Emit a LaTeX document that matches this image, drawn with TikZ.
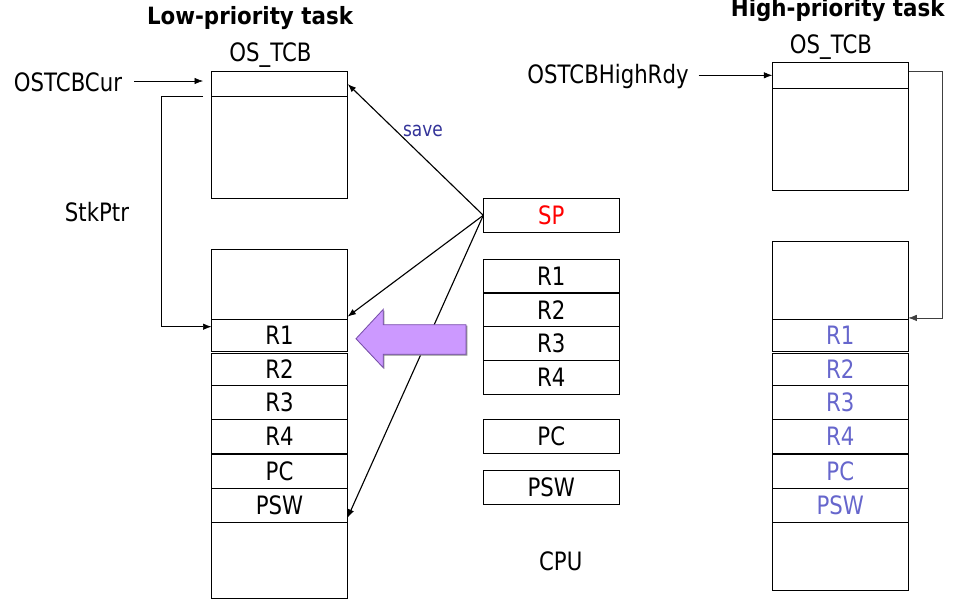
\documentclass[tikz,border=0pt]{standalone}
\usepackage{fontspec}
\setmainfont[FakeStretch=0.84]{DejaVu Sans}
\newfontfamily\headfont[FakeStretch=0.9]{DejaVu Sans Bold}
\usepackage{tikz}
\usetikzlibrary{arrows.meta}
\usetikzlibrary{calc}
\pgfdeclarelayer{nodelayer}
\pgfdeclarelayer{edgelayer}
\pgfsetlayers{edgelayer,nodelayer,main}
\definecolor{restored}{RGB}{102,102,204}
\definecolor{savetext}{RGB}{51,51,153}
\definecolor{arrowfill}{RGB}{204,153,255}
\definecolor{arrowline}{RGB}{120,80,170}
\newcommand{\regfont}{\fontsize{18}{21}\selectfont}
\tikzstyle{txt}=[inner sep=0pt, anchor=base, font=\regfont]
\tikzstyle{head}=[inner sep=0pt, anchor=base, font=\headfont\fontsize{16.9}{20}\selectfont]
\tikzset{cell/.style={draw, shape=rectangle, inner sep=0pt, outer sep=0pt,
anchor=north west, minimum width=3.4cm, font=\regfont}}
\tikzset{tcb/.style={cell, minimum width=#1}}
\tikzset{every picture/.append style={line width=1pt, >={Latex[length=6pt,width=4.5pt]}}}

\begin{document}
\begin{tikzpicture}[x=0.025cm, y=-0.025cm]
    \useasboundingbox (0, 0) rectangle (969, 606);
    			\begin{pgfonlayer}{nodelayer}
    				% titles and labels
    				\node [style=head] (1) at (250, 24) {Low-priority task};
    				\node [style=txt] (2) at (270.5, 61.7) {OS\_TCB};
    				\node [style=txt] (3) at (68, 91.7) {OSTCBCur};
    				\node [style=txt] (4) at (97, 221.7) {StkPtr};
    				\node [style=txt, font=\fontsize{14.4}{17}\selectfont, text=savetext] (5) at (423, 136) {save};
    				\node [style=head] (6) at (837.7, 16) {High-priority task};
    				\node [style=txt] (7) at (831, 53) {OS\_TCB};
    				\node [style=txt] (8) at (608, 83.3) {OSTCBHighRdy};
    				% low-priority OS_TCB
    				\node [style=tcb=3.165cm, minimum height=0.635cm] (10) at (211.7, 71.3) {};
    				\node [style=tcb=3.165cm, minimum height=2.5325cm] (11) at (211.7, 96.7) {};
    				% low-priority stack
    				\node [style=cell, minimum height=1.75cm] (20) at (211.5, 249.5) {};
    				\node [style=cell, minimum height=0.8cm] (21) at (211.5, 319.5) {R1};
    				\node [style=cell, minimum height=0.8cm] (22) at (211.5, 353.5) {R2};
    				\node [style=cell, minimum height=0.85cm] (23) at (211.5, 385.5) {R3};
    				\node [style=cell, minimum height=0.86cm] (24) at (211.5, 419.5) {R4};
    				\node [style=cell, minimum height=0.85cm] (25) at (211.5, 454) {PC};
    				\node [style=cell, minimum height=0.85cm] (26) at (211.5, 488) {PSW};
    				\node [style=cell, minimum height=1.9cm] (27) at (211.5, 522) {};
    				% CPU
    				\node [style=cell, minimum height=0.85cm, text=red] (30) at (483.3, 198.3) {SP};
    				\node [style=cell, minimum height=0.84cm] (31) at (483.3, 259.3) {R1};
    				\node [style=cell, minimum height=0.83cm] (32) at (483.3, 293) {R2};
    				\node [style=cell, minimum height=0.85cm] (33) at (483.3, 326.3) {R3};
    				\node [style=cell, minimum height=0.85cm] (34) at (483.3, 360.3) {R4};
    				\node [style=cell, minimum height=0.85cm] (35) at (483.3, 419.3) {PC};
    				\node [style=cell, minimum height=0.85cm] (36) at (483.3, 470.3) {PSW};
    				\node [style=txt] (37) at (560.7, 570) {CPU};
    				% high-priority stack
    				\node [style=cell, minimum height=1.94cm] (40) at (772.3, 241.7) {};
    				\node [style=cell, minimum height=0.8cm, text=restored] (41) at (772.3, 319.3) {R1};
    				\node [style=cell, minimum height=0.81cm, text=restored] (42) at (772.3, 353.3) {R2};
    				\node [style=cell, minimum height=0.84cm, text=restored] (43) at (772.3, 385.7) {R3};
    				\node [style=cell, minimum height=0.87cm, text=restored] (44) at (772.3, 419.3) {R4};
    				\node [style=cell, minimum height=0.86cm, text=restored] (45) at (772.3, 454) {PC};
    				\node [style=cell, minimum height=0.85cm, text=restored] (46) at (772.3, 488.3) {PSW};
    				\node [style=cell, minimum height=1.69cm] (47) at (772.3, 522.3) {};
    				% high-priority OS_TCB
    				\node [style=tcb=3.2cm, minimum height=0.65cm] (50) at (772.3, 62.3) {};
    				\node [style=tcb=3.2cm, minimum height=2.55cm] (51) at (772.3, 88.3) {};
    				% bends
    				\coordinate (60) at (203, 81);
    				\coordinate (63) at (203, 96.7);
    				\coordinate (64) at (161, 326.7);
    				\coordinate (65) at (942.3, 71.3);
    			\end{pgfonlayer}
    			\begin{pgfonlayer}{edgelayer}
    				\draw [->] (3.east |- 60) ++(12, 0) to (60);
    				\draw [->] (63) -| (64) to (64 -| 21.west);
    				\draw [->] ([xshift=7pt]8.east |- 50.west) to (50.west);
    				\draw [->, draw=black!75] (65 -| 50.east) to (65) |- ([yshift=1pt]40.south east);
    				\draw [->, line width=0.8pt] (30.west) to (10.east);
    				\draw [->, line width=0.8pt] (30.west) to ([yshift=2pt]20.south east);
    				\draw [->, line width=0.8pt] (30.west) to ([yshift=3pt]26.south east);
    				% switch arrow
    				\fill [black!45] (357, 340) -- (384.3, 310.5) -- (384.3, 325.7) -- (467.3, 325.7) -- (467.3, 355.5) -- (384.3, 355.5) -- (384.3, 369) -- cycle;
    				\filldraw [fill=arrowfill, draw=arrowline, line width=0.6pt] (356, 338.7) -- (383.3, 309.3) -- (383.3, 324.7) -- (466, 324.7) -- (466, 354.3) -- (383.3, 354.3) -- (383.3, 367.7) -- cycle;
    			\end{pgfonlayer}
    			\draw [line width=1.8pt] (25.north west) to (25.north east);
    			\draw [line width=1.8pt] (32.north west) to (32.north east);
    			\draw [line width=1.8pt] (45.north west) to (45.north east);
    		\end{tikzpicture}
\end{document}
